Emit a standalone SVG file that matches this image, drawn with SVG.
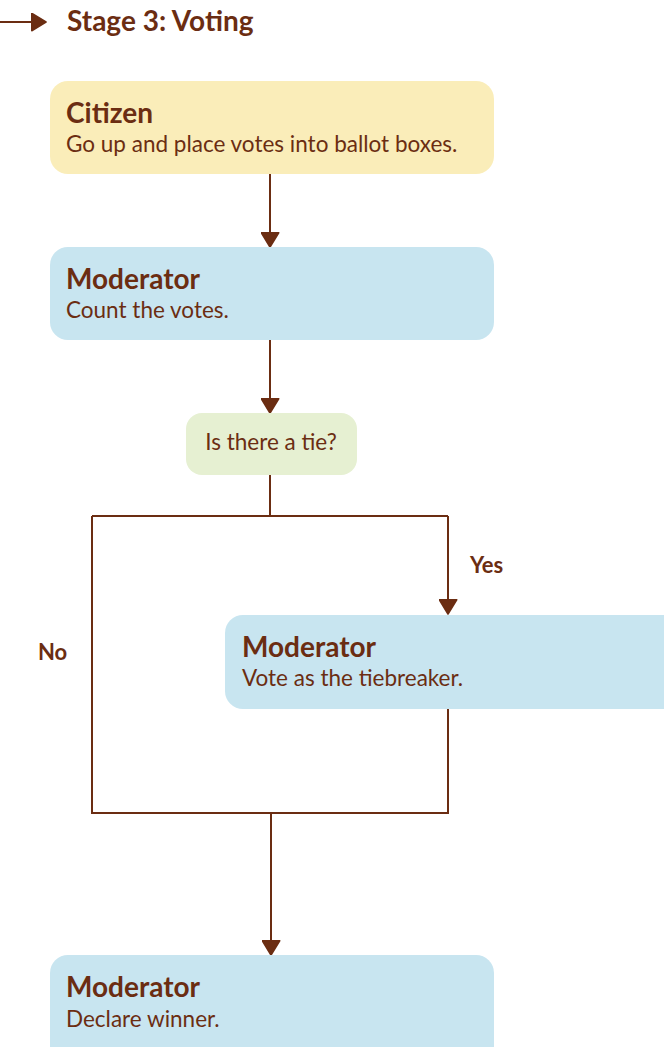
<svg xmlns="http://www.w3.org/2000/svg" width="664" height="1047" viewBox="0 0 664 1047">
<style>
text{font-family:Lato,"Open Sans",sans-serif;fill:#6B2D12}
.t{font-weight:bold;font-size:28px}
.b{font-size:22.5px}
.l{font-weight:bold;font-size:22px}
.ln{fill:none;stroke:#6B2D12;stroke-width:2}
.blue{fill:#C8E5F0}
</style>
<defs>
<marker id="ah2" viewBox="0 0 10 12" refX="9.5" refY="6" markerWidth="16" markerHeight="19" markerUnits="userSpaceOnUse" orient="auto">
<path d="M0.5,0.5 L9.5,6 L0.5,11.5 Z" fill="#6B2D12" stroke="#6B2D12" stroke-width="1" stroke-linejoin="round"/>
</marker>
</defs>
<g id="title">
<line x1="0" y1="22" x2="46" y2="22" class="ln" marker-end="url(#ah2)"/>
<text x="67" y="31" class="t" style="font-size:28px">Stage 3: Voting</text>
</g>
<g id="connectors">
<line x1="270" y1="174" x2="270" y2="247" class="ln" marker-end="url(#ah2)"/>
<line x1="270" y1="340" x2="270" y2="413" class="ln" marker-end="url(#ah2)"/>
<polyline points="270,475 270,516" class="ln"/>
<polyline points="92,516 448,516" class="ln"/>
<line x1="448" y1="516" x2="448" y2="614" class="ln" marker-end="url(#ah2)"/>
<polyline points="92,516 92,813 448,813 448,709" class="ln"/>
<line x1="271" y1="813" x2="271" y2="955" class="ln" marker-end="url(#ah2)"/>
<text x="470" y="573" class="l">Yes</text>
<text x="38" y="660" class="l">No</text>
</g>
<g id="citizen">
<rect x="50" y="81" width="444" height="93" rx="18" fill="#FAEDB9"/>
<text x="66" y="123" class="t">Citizen</text>
<text x="66" y="152" class="b">Go up and place votes into ballot boxes.</text>
</g>
<g id="moderator1">
<rect x="50" y="247" width="444" height="93" rx="18" class="blue"/>
<text x="66" y="289" class="t">Moderator</text>
<text x="66" y="318" class="b">Count the votes.</text>
</g>
<g id="decision">
<rect x="186" y="413" width="171" height="62" rx="16" fill="#E6F0D2"/>
<text x="271" y="450" class="b" text-anchor="middle">Is there a tie?</text>
</g>
<g id="moderator2">
<rect x="225" y="615" width="460" height="94" rx="18" class="blue"/>
<text x="242" y="657" class="t">Moderator</text>
<text x="242" y="686" class="b">Vote as the tiebreaker.</text>
</g>
<g id="moderator3">
<rect x="50" y="955" width="444" height="110" rx="18" class="blue"/>
<text x="66" y="997" class="t">Moderator</text>
<text x="66" y="1027" class="b">Declare winner.</text>
</g>
</svg>
